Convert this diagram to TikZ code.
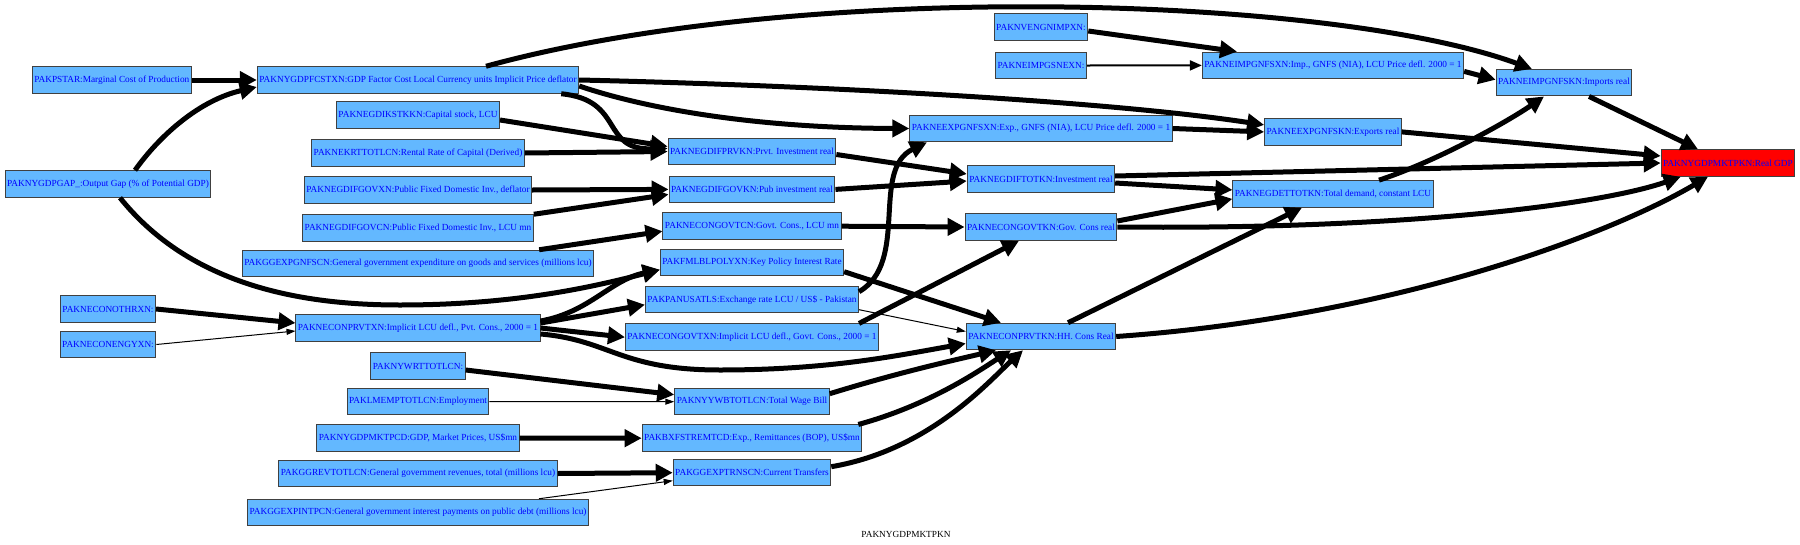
\documentclass[tikz,border=0pt]{standalone}
\usepackage{fontspec}
\setmainfont{Liberation Serif}
\usepackage{xcolor}
\usepackage{tikz}
\usetikzlibrary{shapes,arrows.meta,positioning,calc}

\definecolor{boxblue}{RGB}{99,184,255}
\definecolor{boxline}{RGB}{64,64,64}
\definecolor{labelblue}{RGB}{0,0,255}

\begin{document}
\begin{tikzpicture}[
    x=1pt, y=-1pt,
    var/.style={rectangle, draw=boxline, line width=1pt, fill=boxblue, text=labelblue, font=\fontsize{9.3}{11}\selectfont, minimum height=26.5pt, inner xsep=2pt, inner ysep=1pt},
    target/.style={var, fill=red},
    heavyedge/.style={line width=5pt, -{Triangle[length=17pt,width=17pt]}},
    midedge/.style={line width=2pt, -{Triangle[length=12pt,width=10pt]}},
    lightedge/.style={line width=1pt, -{Triangle[length=9pt,width=6pt]}}
]
\useasboundingbox (0,0) rectangle (1800,544);

\node [var] at (418,80) (fcstxn) {PAKNYGDPFCSTXN:GDP Factor Cost Local Currency units Implicit Price deflator};
\node [var, left=65pt of fcstxn] (pstar) {PAKPSTAR:Marginal Cost of Production};
\node [var] at (108,184) (gap) {PAKNYGDPGAP\_:Output Gap (\% of Potential GDP)};
\node [var, below=7.5pt of fcstxn] (ikstkkn) {PAKNEGDIKSTKKN:Capital stock, LCU};
\node [var, below=10.5pt of ikstkkn] (krttotlcn) {PAKNEKRTTOTLCN:Rental Rate of Capital (Derived)};
\node [var, below=9.5pt of krttotlcn] (ifgovxn) {PAKNEGDIFGOVXN:Public Fixed Domestic Inv., deflator};
\node [var, below=10.5pt of ifgovxn] (ifgovcn) {PAKNEGDIFGOVCN:Public Fixed Domestic Inv., LCU mn};
\node [var, below=8pt of ifgovcn] (gexpgnfscn) {PAKGGEXPGNFSCN:General government expenditure on goods and services (millions lcu)};
\node [var, below=37pt of gexpgnfscn] (conprvtxn) {PAKNECONPRVTXN:Implicit LCU defl., Pvt. Cons., 2000 = 1};
\node [var, below=10.5pt of conprvtxn] (wrttotlcn) {PAKNYWRTTOTLCN:};
\node [var, below=8pt of wrttotlcn] (lmemp) {PAKLMEMPTOTLCN:Employment};
\node [var, below=9pt of lmemp] (gdpmktpcd) {PAKNYGDPMKTPCD:GDP, Market Prices, US\$mn};
\node [var, below=8pt of gdpmktpcd] (ggrevtotlcn) {PAKGGREVTOTLCN:General government revenues, total (millions lcu)};
\node [var, below=11.5pt of ggrevtotlcn] (ggexpintpcn) {PAKGGEXPINTPCN:General government interest payments on public debt (millions lcu)};
\node [var] at (108,309) (conothrxn) {PAKNECONOTHRXN:};
\node [var, below=8pt of conothrxn] (conengyxn) {PAKNECONENGYXN:};

\node [var] at (752,151.5) (ifprvkn) {PAKNEGDIFPRVKN:Prvt. Investment real};
\node [var, below=10.4pt of ifprvkn] (ifgovkn) {PAKNEGDIFGOVKN:Pub investment real};
\node [var, below=9.3pt of ifgovkn] (congovtcn) {PAKNECONGOVTCN:Govt. Cons., LCU mn};
\node [var, below=9pt of congovtcn] (fmlbl) {PAKFMLBLPOLYXN:Key Policy Interest Rate};
\node [var, below=9.5pt of fmlbl] (panusatls) {PAKPANUSATLS:Exchange rate LCU / US\$ - Pakistan};
\node [var, below=10pt of panusatls] (congovtxn) {PAKNECONGOVTXN:Implicit LCU defl., Govt. Cons., 2000 = 1};
\node [var, below=37pt of congovtxn] (yywbtotlcn) {PAKNYYWBTOTLCN:Total Wage Bill};
\node [var, below=9pt of yywbtotlcn] (bxfstremtcd) {PAKBXFSTREMTCD:Exp., Remittances (BOP), US\$mn};
\node [var, below=7pt of bxfstremtcd] (ggexptrnscn) {PAKGGEXPTRNSCN:Current Transfers};

\node [var] at (1041,27) (nvengnimpxn) {PAKNVENGNIMPXN:};
\node [var, below=11pt of nvengnimpxn] (neimpgsnexn) {PAKNEIMPGSNEXN:};
\node [var, below=35.5pt of neimpgsnexn] (neexpgnfsxn) {PAKNEEXPGNFSXN:Exp., GNFS (NIA), LCU Price defl. 2000 = 1};
\node [var, below=23pt of neexpgnfsxn] (gdiftotkn) {PAKNEGDIFTOTKN:Investment real};
\node [var, below=20.5pt of gdiftotkn] (congovtkn) {PAKNECONGOVTKN:Gov. Cons real};
\node [var, below=82pt of congovtkn] (conprvtkn) {PAKNECONPRVTKN:HH. Cons Real};

\node [var] at (1333,65.4) (neimpgnfsxn) {PAKNEIMPGNFSXN:Imp., GNFS (NIA), LCU Price defl. 2000 = 1};
\node [var, below=39pt of neimpgnfsxn] (neexpgnfskn) {PAKNEEXPGNFSKN:Exports real};
\node [var, below=34.5pt of neexpgnfskn] (gdettotkn) {PAKNEGDETTOTKN:Total demand, constant LCU};
\node [var] at (1564,82.7) (neimpgnfskn) {PAKNEIMPGNFSKN:Imports real};
\node [target] at (1728,163) (gdpmktpkn) {PAKNYGDPMKTPKN:Real GDP};

\node [font=\fontsize{9.3}{11}\selectfont] at (906,534) (caption) {PAKNYGDPMKTPKN};

\draw [heavyedge] (pstar) -- (fcstxn);
\draw [heavyedge] ([xshift=27pt]gap.north) .. controls (160,135) and (200,100) .. ([yshift=-7pt]fcstxn.west);
\draw [heavyedge] ([xshift=12pt]gap.south) .. controls (190,285) and (300,305) .. (400,305) .. controls (520,305) and (600,285) .. ([yshift=-7pt]fmlbl.west);
\draw [heavyedge] ([xshift=-18pt]fcstxn.south east) .. controls (625,100) and (600,150) .. ([yshift=3pt]ifprvkn.west);
\draw [heavyedge] ([yshift=-6pt]fcstxn.east) .. controls (650,110) and (760,128) .. (neexpgnfsxn.west);
\draw [heavyedge] (fcstxn.east) .. controls (800,85) and (1100,100) .. ([yshift=7pt]neexpgnfskn.west);
\draw [heavyedge] ([xshift=68pt]fcstxn.north) .. controls (800,-20) and (1330,-5) .. ([xshift=-32pt]neimpgnfskn.north);

\draw [heavyedge] ([yshift=-5pt]ikstkkn.east) -- ([yshift=5pt]ifprvkn.west);
\draw [heavyedge] (krttotlcn.east) -- (ifprvkn.west);
\draw [heavyedge] (ifgovxn.east) -- (ifgovkn.west);
\draw [heavyedge] (ifgovcn.north east) -- ([yshift=-5pt]ifgovkn.west);
\draw [heavyedge] ([xshift=-55pt]gexpgnfscn.north east) -- ([yshift=-5pt]congovtcn.west);
\draw [heavyedge] (conothrxn.east) -- ([yshift=5pt]conprvtxn.west);
\draw [lightedge] (conengyxn.east) -- ([yshift=-3pt]conprvtxn.west);

\draw [heavyedge] ([yshift=7pt]conprvtxn.east) .. controls (590,312) and (610,280) .. ([yshift=-7pt]fmlbl.west);
\draw [heavyedge] ([yshift=5pt]conprvtxn.east) -- ([yshift=-5pt]panusatls.west);
\draw [heavyedge] (conprvtxn.east) -- (congovtxn.west);
\draw [heavyedge] ([yshift=-6pt]conprvtxn.east) .. controls (610,340) and (620,370) .. (720,370) .. controls (830,370) and (900,355) .. ([yshift=-7pt]conprvtkn.west);

\draw [heavyedge] ([yshift=-4pt]wrttotlcn.east) -- ([yshift=7pt]yywbtotlcn.west);
\draw [lightedge] (lmemp.east) -- (yywbtotlcn.west);
\draw [heavyedge] (gdpmktpcd.east) -- (bxfstremtcd.west);
\draw [heavyedge] (ggrevtotlcn.east) -- (ggexptrnscn.west);
\draw [lightedge] ([xshift=-50pt]ggexpintpcn.north east) -- ([yshift=-8pt]ggexptrnscn.west);

\draw [heavyedge] ([yshift=-3pt]ifprvkn.east) -- ([yshift=5pt]gdiftotkn.west);
\draw [heavyedge] (ifgovkn.east) -- ([yshift=-2pt]gdiftotkn.west);
\draw [heavyedge] (congovtcn.east) -- (congovtkn.west);
\draw [heavyedge] ([yshift=-9pt]fmlbl.east) -- ([xshift=-40pt]conprvtkn.north);
\draw [heavyedge] ([yshift=8pt]panusatls.east) .. controls (910,262) and (870,170) .. ([xshift=-114pt]neexpgnfsxn.south);
\draw [lightedge] ([yshift=-10pt]panusatls.east) -- ([yshift=5pt]conprvtkn.west);
\draw [heavyedge] ([xshift=-20pt]congovtxn.north east) -- ([xshift=-22pt]congovtkn.south);
\draw [heavyedge] ([yshift=8pt]yywbtotlcn.east) .. controls (900,372) and (955,360) .. ([xshift=-45pt]conprvtkn.south);
\draw [heavyedge] ([xshift=-4pt]bxfstremtcd.north east) .. controls (930,405) and (980,370) .. ([xshift=-30pt]conprvtkn.south);
\draw [heavyedge] ([yshift=6pt]ggexptrnscn.east) .. controls (930,450) and (990,380) .. ([xshift=-18pt]conprvtkn.south);

\draw [heavyedge] ([yshift=-4pt]nvengnimpxn.east) -- ([xshift=-96pt]neimpgnfsxn.north);
\draw [midedge] (neimpgsnexn.east) -- (neimpgnfsxn.west);
\draw [heavyedge] (neexpgnfsxn.east) -- (neexpgnfskn.west);
\draw [heavyedge] ([yshift=3pt]gdiftotkn.east) -- (gdpmktpkn.west);
\draw [heavyedge] ([yshift=-4pt]gdiftotkn.east) -- ([yshift=4pt]gdettotkn.west);
\draw [heavyedge] ([yshift=6pt]congovtkn.east) -- ([yshift=-5pt]gdettotkn.west);
\draw [heavyedge] (congovtkn.east) .. controls (1400,230) and (1600,205) .. ([xshift=20pt]gdpmktpkn.south west);
\draw [heavyedge] ([xshift=27pt]conprvtkn.north) -- ([xshift=-31pt]gdettotkn.south);
\draw [heavyedge] (conprvtkn.east) .. controls (1380,318) and (1600,240) .. ([xshift=-20pt]gdpmktpkn.south);

\draw [heavyedge] ([yshift=-6pt]neimpgnfsxn.east) -- ([yshift=3pt]neimpgnfskn.west);
\draw [heavyedge] ([xshift=46pt]gdettotkn.north) .. controls (1440,160) and (1510,120) .. ([xshift=-20pt]neimpgnfskn.south);
\draw [heavyedge] ([xshift=25pt]neimpgnfskn.south) -- ([xshift=-30pt]gdpmktpkn.north);
\draw [heavyedge] (neexpgnfskn.east) -- ([yshift=7pt]gdpmktpkn.west);

\end{tikzpicture}
\end{document}
